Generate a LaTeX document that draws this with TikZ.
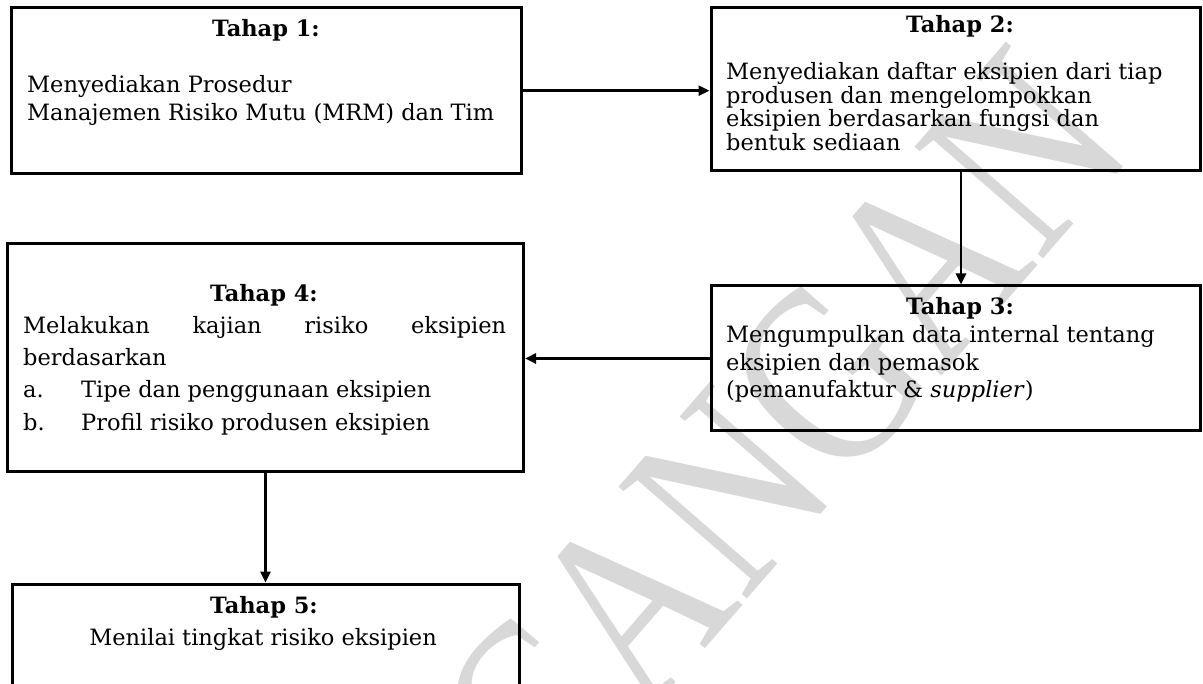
\documentclass[tikz,border=0pt]{standalone}
\usepackage{fontspec}
\setmainfont{DejaVu Serif}
\newfontfamily\wmfont{Liberation Serif}
\usetikzlibrary{arrows.meta}
\definecolor{wmgray}{RGB}{216,216,216}
\begin{document}
\begin{tikzpicture}[x=1pt,y=-1pt,
  box/.style={draw=black,line width=3pt,inner sep=0pt,rectangle},
  arr/.style={line width=2.6pt,-{Triangle[length=11pt,width=10pt]}},
  head/.style={font=\fontsize{22.5}{24}\selectfont\bfseries,inner sep=0pt,anchor=base},
  body/.style={font=\fontsize{22.5}{24}\selectfont,inner sep=0pt,anchor=base west},
  bodyc/.style={font=\fontsize{22.5}{24}\selectfont,inner sep=0pt,anchor=base},
  wm/.style={font=\fontsize{260}{260}\wmfont,text=wmgray,inner sep=0pt}
]
\useasboundingbox (0,0) rectangle (1203,684);
\clip (0,0) rectangle (1203,684);
% watermark
\node[wm,rotate=49,anchor=base east] (wm) at (1138,150) {\scalebox{0.8}[1]{RANCANGAN}};
% boxes
\node[box,minimum width=509.2pt,minimum height=166.6pt] (t1) at (266.4,90.7) {};
\node[box,minimum width=489pt,minimum height=163.6pt] (t2) at (955.5,89.2) {};
\node[box,minimum width=489pt,minimum height=145pt] (t3) at (955.5,358.5) {};
\node[box,minimum width=516.1pt,minimum height=228pt] (t4) at (265.5,357.2) {};
\node[box,minimum width=507pt,minimum height=136pt] (t5) at (265.5,652) {};
% texts
\node[head] (h1) at (266,37) {Tahap 1:};
\node[body] (t1a) at (27,93) {Menyediakan Prosedur};
\node[body] (t1b) at (27,121) {Manajemen Risiko Mutu (MRM) dan Tim};
\node[head] (h2) at (960,33) {Tahap 2:};
\node[body] (t2a) at (726,80) {Menyediakan daftar eksipien dari tiap};
\node[body] (t2b) at (726,103.5) {produsen dan mengelompokkan};
\node[body] (t2c) at (726,127) {eksipien berdasarkan fungsi dan};
\node[body] (t2d) at (726,150.5) {bentuk sediaan};
\node[head] (h3) at (960,315) {Tahap 3:};
\node[body] (t3a) at (726,343) {Mengumpulkan data internal tentang};
\node[body] (t3b) at (726,371) {eksipien dan pemasok};
\node[body] (t3c) at (726,398) {(pemanufaktur \& \textit{supplier})};
\node[head] (h4) at (264,302) {Tahap 4:};
\node[body] (t4a) at (23,334) {\makebox[483pt][s]{Melakukan kajian risiko eksipien}};
\node[body] (t4b) at (23,366) {berdasarkan};
\node[body] (t4c) at (23,398) {\makebox[58pt][l]{a.}Tipe dan penggunaan eksipien};
\node[body] (t4d) at (23,430.5) {\makebox[58pt][l]{b.}Profil risiko produsen eksipien};
\node[head] (h5) at (264,613) {Tahap 5:};
\node[bodyc] (t5a) at (263,645) {Menilai tingkat risiko eksipien};
% connectors
\coordinate (c23) at (961,0);
\draw[arr] (t1.east) -- (t1.east -| t2.west);
\draw[arr] (t2.south -| c23) -- (t3.north -| c23);
\draw[arr] (t3.west) -- (t3.west -| t4.east);
\draw[arr] (t4.south) -- (t4.south |- t5.north);
\end{tikzpicture}
\end{document}
